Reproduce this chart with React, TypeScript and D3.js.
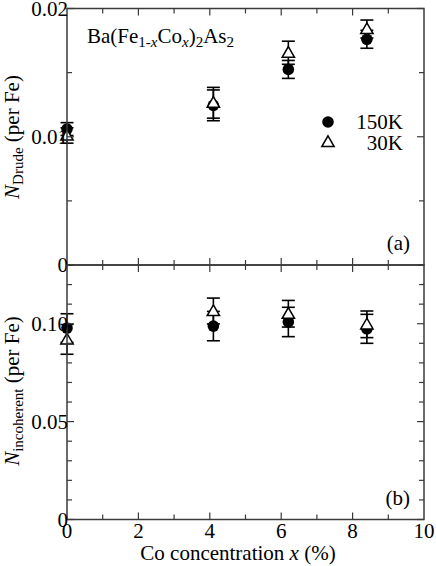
import React from "react";
import * as d3 from "d3";

// Co concentration x (%)
const concentrations = [0, 4.1, 6.2, 8.4];

// (a) Drude weight
const drude150 = [0.0106, 0.01245, 0.01525, 0.0176];
const drude150Err = [0.0005, 0.0012, 0.0007, 0.0007];
const drude30 = [0.0101, 0.01265, 0.01655, 0.0184];
const drude30Err = [0.0006, 0.0012, 0.0009, 0.0007];

// (b) incoherent part
const incoh150 = [0.0978, 0.0988, 0.1009, 0.0974];
const incoh150Err = [0.0073, 0.0075, 0.0075, 0.0074];
const incoh30 = [0.092, 0.1065, 0.1051, 0.0997];
const incoh30Err = [0.0076, 0.0066, 0.0068, 0.0068];

const xTickLabels = [0, 2, 4, 6, 8, 10];
const drudeTickLabels = [0, 0.01, 0.02];
const incohTickLabels = [0, 0.05, 0.1];

const FONT = "Liberation Serif, DejaVu Serif, serif";
const FS = 21;
const SUB = 15;
const frameColor = "#3a3a3a";

type Series = { values: number[]; errs: number[]; filled: boolean };

function Panel({
  yScale,
  xScale,
  series,
  yMinor,
  yLabels,
  fmt,
  tag,
}: {
  yScale: d3.ScaleLinear<number, number>;
  xScale: d3.ScaleLinear<number, number>;
  series: Series[];
  yMinor: number[];
  yLabels: number[];
  fmt: (v: number) => string;
  tag: string;
}) {
  const [x0, x1] = xScale.range();
  const [yb, yt] = yScale.range();
  const xMinor = d3.range(1, 10, 1);
  const tri = d3.symbol().type(d3.symbolTriangle).size(66)();
  return (
    <g>
      {series.map((s, si) => (
        <g key={si}>
          {concentrations.map((c, i) => {
            const cx = xScale(c);
            const top = yScale(s.values[i] + s.errs[i]);
            const bot = yScale(s.values[i] - s.errs[i]);
            return (
              <g key={i} stroke="#000" strokeWidth={1.6}>
                <line x1={cx} x2={cx} y1={top} y2={bot} />
                <line x1={cx - 6.5} x2={cx + 6.5} y1={top} y2={top} />
                <line x1={cx - 6.5} x2={cx + 6.5} y1={bot} y2={bot} />
              </g>
            );
          })}
        </g>
      ))}
      {series.map((s, si) => (
        <g key={"m" + si}>
          {concentrations.map((c, i) =>
            s.filled ? (
              <circle key={i} cx={xScale(c)} cy={yScale(s.values[i])} r={5.8} fill="#000" />
            ) : (
              <path
                key={i}
                d={tri as string}
                transform={`translate(${xScale(c)},${yScale(s.values[i]) + 1})`}
                fill="#fff"
                stroke="#000"
                strokeWidth={1.5}
              />
            )
          )}
        </g>
      ))}
      <rect x={x0} y={yt} width={x1 - x0} height={yb - yt} fill="none" stroke={frameColor} strokeWidth={1.5} />
      {xMinor.map((v) => {
        const len = v % 2 === 0 ? 7 : 5;
        return (
          <g key={v} stroke={frameColor} strokeWidth={1.2}>
            <line x1={xScale(v)} x2={xScale(v)} y1={yb} y2={yb - len} />
            <line x1={xScale(v)} x2={xScale(v)} y1={yt} y2={yt + len} />
          </g>
        );
      })}
      {yMinor.map((v, i) => {
        const major = yLabels.some((l) => Math.abs(l - v) < 1e-9);
        const len = major ? 7 : 5;
        return (
          <g key={i} stroke={frameColor} strokeWidth={1.2}>
            <line x1={x0} x2={x0 + len} y1={yScale(v)} y2={yScale(v)} />
            <line x1={x1} x2={x1 - len} y1={yScale(v)} y2={yScale(v)} />
          </g>
        );
      })}
      {yLabels.map((v) => (
        <text key={v} x={x0 + 1} y={yScale(v) + 7} textAnchor="end" fontSize={FS} style={{ fontFamily: FONT }}>
          {fmt(v)}
        </text>
      ))}
      <text x={410} y={yb - 15} textAnchor="end" fontSize={FS} style={{ fontFamily: FONT }}>
        {tag}
      </text>
    </g>
  );
}

export default function App() {
  const width = 436;
  const height = 566;
  const left = 67;
  const right = 424;

  const xScale = d3.scaleLinear().domain([0, 10]).range([left, right]);
  const yTop = d3.scaleLinear().domain([0, 0.02]).range([265, 8.5]);
  const yBot = d3.scaleLinear().domain([0, 0.13]).range([519.5, 265]);

  const tri = d3.symbol().type(d3.symbolTriangle).size(66)();
  const fs = { fontFamily: FONT };

  return (
    <div style={{ position: "absolute", left: 0, top: 0 }}>
      <svg width={width} height={height} style={{ display: "block", background: "#fff", fontFamily: FONT }}>
        <Panel
          xScale={xScale}
          yScale={yTop}
          series={[
            { values: drude150, errs: drude150Err, filled: true },
            { values: drude30, errs: drude30Err, filled: false },
          ]}
          yMinor={d3.range(0, 0.0201, 0.005)}
          yLabels={drudeTickLabels}
          fmt={(v) => (v === 0 ? "0" : d3.format(".2f")(v))}
          tag="(a)"
        />
        <Panel
          xScale={xScale}
          yScale={yBot}
          series={[
            { values: incoh150, errs: incoh150Err, filled: true },
            { values: incoh30, errs: incoh30Err, filled: false },
          ]}
          yMinor={d3.range(0, 0.1301, 0.01)}
          yLabels={incohTickLabels}
          fmt={(v) => (v === 0 ? "0" : d3.format(".2f")(v))}
          tag="(b)"
        />

        {/* x tick labels */}
        {xTickLabels.map((v) => (
          <text key={v} x={xScale(v)} y={538} textAnchor="middle" fontSize={FS} style={fs}>
            {v}
          </text>
        ))}
        <text x={238} y={560} textAnchor="middle" fontSize={FS} style={fs}>
          Co concentration <tspan fontStyle="italic">x</tspan> (%)
        </text>

        {/* y titles */}
        <text transform="translate(19,137) rotate(-90)" textAnchor="middle" fontSize={FS} style={fs}>
          <tspan fontStyle="italic">N</tspan>
          <tspan fontSize={SUB} dy={4}>Drude</tspan>
          <tspan dy={-4}> (per Fe)</tspan>
        </text>
        <text transform="translate(19,391) rotate(-90)" textAnchor="middle" fontSize={FS} style={fs}>
          <tspan fontStyle="italic">N</tspan>
          <tspan fontSize={SUB} dy={4}>incoherent</tspan>
          <tspan dy={-4}> (per Fe)</tspan>
        </text>

        {/* compound */}
        <text x={87} y={43} fontSize={FS} style={fs}>
          Ba(Fe
          <tspan fontSize={SUB} dy={4}>1-</tspan>
          <tspan fontSize={SUB} fontStyle="italic">x</tspan>
          <tspan dy={-4}>Co</tspan>
          <tspan fontSize={SUB} fontStyle="italic" dy={4}>x</tspan>
          <tspan dy={-4}>)</tspan>
          <tspan fontSize={SUB} dy={4}>2</tspan>
          <tspan dy={-4}>As</tspan>
          <tspan fontSize={SUB} dy={4}>2</tspan>
        </text>

        {/* legend */}
        <circle cx={328} cy={122} r={5.8} fill="#000" />
        <path d={tri as string} transform="translate(328,143)" fill="#fff" stroke="#000" strokeWidth={1.5} />
        <text x={403} y={129} textAnchor="end" fontSize={FS} style={fs}>150K</text>
        <text x={403} y={150} textAnchor="end" fontSize={FS} style={fs}>30K</text>
      </svg>
    </div>
  );
}
